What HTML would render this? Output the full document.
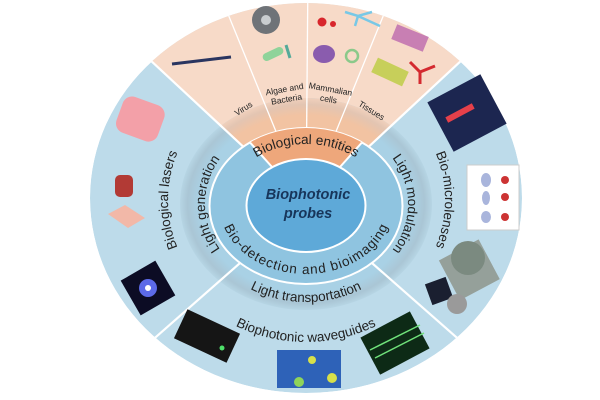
<!DOCTYPE html>
<html><head><meta charset="utf-8"><style>
html,body{margin:0;padding:0;background:#fff;width:600px;height:400px;overflow:hidden}
svg{display:block;overflow:hidden}
text{font-family:"Liberation Sans",sans-serif;fill:#222}
</style></head><body>
<svg width="600" height="400" viewBox="0 0 600 400" xmlns="http://www.w3.org/2000/svg">
<defs>
<clipPath id="co"><ellipse cx="306" cy="198" rx="216" ry="195"/></clipPath>
<clipPath id="cm"><ellipse cx="306" cy="204" rx="126" ry="106"/></clipPath>
<clipPath id="cb"><ellipse cx="306" cy="206" rx="96.5" ry="78"/></clipPath>
<radialGradient id="sh" cx="306" cy="204" r="126" gradientUnits="userSpaceOnUse" gradientTransform="translate(306 204) scale(1 0.84) translate(-306 -204)">
<stop offset="0.84" stop-color="#a9d1e5"/><stop offset="0.94" stop-color="#aac6d5"/><stop offset="1" stop-color="#b6d5e4"/></radialGradient>
<radialGradient id="shp" cx="306" cy="204" r="126" gradientUnits="userSpaceOnUse" gradientTransform="translate(306 204) scale(1 0.84) translate(-306 -204)">
<stop offset="0.84" stop-color="#f2c3a2"/><stop offset="0.94" stop-color="#e3c5b2"/><stop offset="1" stop-color="#f0d0bc"/></radialGradient>
<path id="pBE" d="M226,206 A80 62 0 0 1 386,206"/>
<path id="pBD" d="M220,206 A86 68 0 0 0 392,206"/>
<path id="pLT" d="M194,204 A112 98 0 0 0 418,204"/>
<path id="pBW" d="M156,204 A150 138 0 0 0 456,204"/>
<path id="pLG" d="M306,290 A101 86 0 0 1 306,118"/>
<path id="pBL" d="M306,330 A138 130 0 0 1 306,70"/>
<path id="pLM" d="M306,118 A102 86 0 0 1 306,290"/>
<path id="pBM" d="M306,70 A139 130 0 0 1 306,330"/>
</defs>
<g clip-path="url(#co)">
<ellipse cx="306" cy="198" rx="216" ry="195" fill="#bddbea"/>
<polygon points="306,205 -22,-100 634,-100" fill="#f7dac8"/>
<ellipse cx="306" cy="204" rx="126" ry="106" fill="url(#sh)"/>
<g clip-path="url(#cm)"><polygon points="306,205 -22,-100 634,-100" fill="url(#shp)"/></g>
<g stroke="#fff" stroke-width="2.2">
<line x1="306" y1="205" x2="-22" y2="-100"/>
<line x1="306" y1="205" x2="634" y2="-100"/>
<line x1="306" y1="205" x2="90" y2="395"/>
<line x1="306" y1="205" x2="522" y2="395"/>
</g>
<g stroke="#fff" stroke-width="1.3">
<line x1="306" y1="205" x2="210" y2="-30"/>
<line x1="306" y1="205" x2="308" y2="-30"/>
<line x1="306" y1="205" x2="402" y2="-30"/>
</g>
</g>
<ellipse cx="306" cy="206" rx="96.5" ry="78" fill="#8fc4e0" stroke="#fff" stroke-width="2"/>
<g clip-path="url(#cb)"><polygon points="306,205 33,-100 579,-100" fill="#eea77b"/>
<g stroke="#fff" stroke-width="2"><line x1="306" y1="205" x2="33" y2="-100"/><line x1="306" y1="205" x2="579" y2="-100"/></g></g>
<ellipse cx="306" cy="205.5" rx="59.5" ry="46.5" fill="#5ea9d8" stroke="#fff" stroke-width="2"/>

<line x1="172" y1="64" x2="231" y2="57" stroke="#2a3560" stroke-width="3"/>
<circle cx="266" cy="20" r="14" fill="#6f7378"/><circle cx="266" cy="20" r="5" fill="#c9cdd0"/>
<rect x="262" y="50" width="22" height="8" rx="4" fill="#8fd39a" transform="rotate(-25 273 54)"/>
<line x1="286" y1="45" x2="290" y2="58" stroke="#5a9" stroke-width="3"/>
<circle cx="322" cy="22" r="4.5" fill="#d8262c"/><circle cx="333" cy="24" r="3" fill="#d8262c"/>
<path d="M345,12 L358,16 L372,12 M358,16 L355,26 M358,16 L380,26" stroke="#78c8e6" stroke-width="2.5" fill="none"/>
<ellipse cx="324" cy="54" rx="11" ry="9" fill="#8a5cae"/>
<circle cx="352" cy="56" r="6" fill="none" stroke="#8bc98a" stroke-width="2.5"/>
<rect x="393" y="30" width="34" height="16" fill="#c87fb3" transform="rotate(22 410 38)"/>
<rect x="373" y="64" width="34" height="16" fill="#c7cf5a" transform="rotate(25 390 72)"/>
<path d="M410,62 L420,72 L435,66 M420,72 L420,84" stroke="#d42a30" stroke-width="3" fill="none"/>
<rect x="118" y="100" width="44" height="38" rx="10" fill="#f3a0a8" transform="rotate(20 140 120)"/>
<rect x="115" y="175" width="18" height="22" rx="5" fill="#b23a35"/>
<polygon points="108,214 125,205 145,218 128,228" fill="#f2b8a8"/>
<rect x="128" y="268" width="40" height="40" fill="#0c0c24" transform="rotate(-30 148 288)"/>
<circle cx="148" cy="288" r="9" fill="#5c6ae8"/><circle cx="148" cy="288" r="3" fill="#fff"/>
<rect x="437" y="85" width="60" height="56" fill="#1c2650" transform="rotate(-28 467 113)"/>
<rect x="445" y="110" width="30" height="6" fill="#e6404a" transform="rotate(-28 460 113)"/>
<rect x="467" y="165" width="52" height="65" fill="#fff" stroke="#ccc"/>
<ellipse cx="486" cy="180" rx="5" ry="7" fill="#a9b5dc"/><circle cx="505" cy="180" r="4" fill="#c33"/>
<ellipse cx="486" cy="198" rx="4" ry="7" fill="#a9b5dc"/><circle cx="505" cy="197" r="4" fill="#c33"/>
<ellipse cx="486" cy="217" rx="5" ry="6" fill="#a9b5dc"/><circle cx="505" cy="217" r="4" fill="#c33"/>
<rect x="447" y="247" width="45" height="45" fill="#95a09a" transform="rotate(-28 470 270)"/>
<circle cx="468" cy="258" r="17" fill="#7b8a80"/>
<rect x="428" y="280" width="22" height="22" fill="#1a1f30" transform="rotate(-20 439 291)"/>
<circle cx="457" cy="304" r="10" fill="#9a9a9a"/>
<rect x="178" y="320" width="58" height="32" fill="#151515" transform="rotate(25 207 336)"/>
<circle cx="222" cy="348" r="2.5" fill="#4ee06a"/>
<rect x="277" y="350" width="64" height="38" fill="#2e62b8"/>
<circle cx="299" cy="382" r="5" fill="#8fd45a"/><circle cx="332" cy="378" r="5" fill="#d7e04a"/><circle cx="312" cy="360" r="4" fill="#d7e04a"/>
<rect x="367" y="322" width="56" height="42" fill="#0d2a16" transform="rotate(-28 395 343)"/>
<line x1="370" y1="350" x2="420" y2="325" stroke="#6fe07a" stroke-width="1.5"/>
<line x1="375" y1="358" x2="424" y2="333" stroke="#6fe07a" stroke-width="1.5"/>

<text font-size="13.5"><textPath href="#pBE" startOffset="50%" text-anchor="middle">Biological entities</textPath></text>
<text font-size="13.5"><textPath href="#pBD" startOffset="50%" text-anchor="middle" textLength="200" lengthAdjust="spacing">Bio-detection and bioimaging</textPath></text>
<text font-size="13.5"><textPath href="#pLT" startOffset="50%" text-anchor="middle">Light transportation</textPath></text>
<text font-size="13.5"><textPath href="#pBW" startOffset="50%" text-anchor="middle">Biophotonic waveguides</textPath></text>
<text font-size="13.5"><textPath href="#pLG" startOffset="50%" text-anchor="middle">Light generation</textPath></text>
<text font-size="13.5"><textPath href="#pBL" startOffset="50%" text-anchor="middle">Biological lasers</textPath></text>
<text font-size="13.5"><textPath href="#pLM" startOffset="50%" text-anchor="middle">Light modulation</textPath></text>
<text font-size="13.5"><textPath href="#pBM" startOffset="50%" text-anchor="middle">Bio-microlenses</textPath></text>
<g font-size="8.5" text-anchor="middle">
<text transform="translate(245,111) rotate(-32)">Virus</text>
<text transform="translate(285,92) rotate(-10)">Algae and</text>
<text transform="translate(287,102) rotate(-10)">Bacteria</text>
<text transform="translate(330,92) rotate(10)">Mammalian</text>
<text transform="translate(328,102) rotate(10)">cells</text>
<text transform="translate(370,113) rotate(32)">Tissues</text>
</g>
<g font-size="14.5" font-weight="bold" font-style="italic" text-anchor="middle">
<text x="308" y="199" style="fill:#17355a">Biophotonic</text>
<text x="308" y="218" style="fill:#17355a">probes</text>
</g>
</svg>
</body></html>
